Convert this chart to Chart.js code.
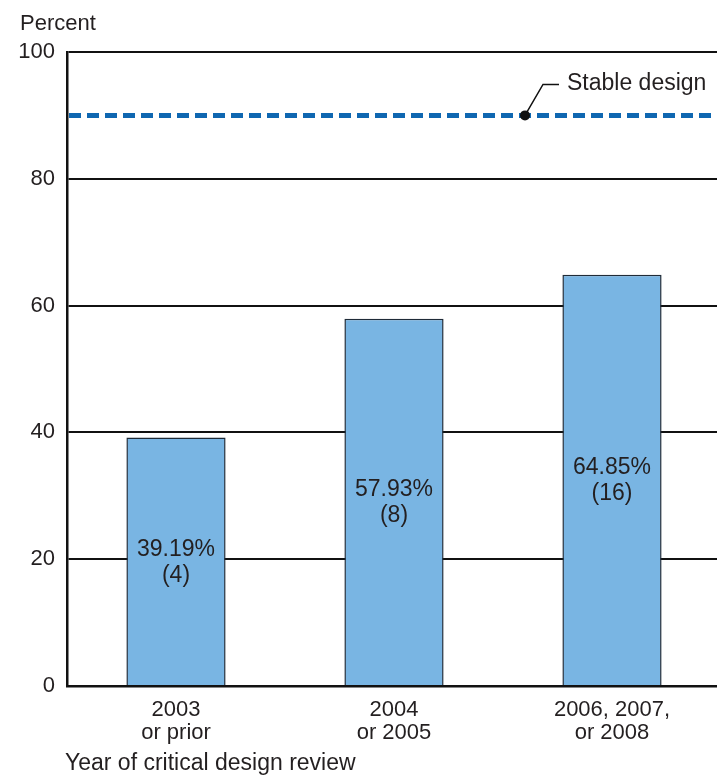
<!DOCTYPE html>
<html>
<head>
<meta charset="utf-8">
<script src="https://cdn.jsdelivr.net/npm/chart.js@4/dist/chart.umd.min.js"></script>
<style>
  html, body { margin: 0; padding: 0; background: #fff; overflow: hidden; }
  #wrap { width: 717px; height: 775px; overflow: hidden; }
</style>
</head>
<body>
<div id="wrap"><canvas id="myChart" width="721" height="775"></canvas></div>
<script>
// review periods and share of drawings completed
const categories = [['2003', 'or prior'], ['2004', 'or 2005'], ['2006, 2007,', 'or 2008']];
const percentValues = [39.19, 57.93, 64.85];
const programCounts = [4, 8, 16];
const yTicks = [0, 20, 40, 60, 80, 100];
const stableLevel = 90;
const stableLabel = 'Stable design';

const FONT = '"Liberation Sans", Arial, Helvetica, sans-serif';
const TEXT = '#231f20';

// writes the percent and program count in the middle of each bar
const barLabels = {
  id: 'barLabels',
  afterDatasetsDraw(chart) {
    const ctx = chart.ctx;
    const meta = chart.getDatasetMeta(0);
    ctx.save();
    ctx.font = '23px ' + FONT;
    ctx.fillStyle = TEXT;
    ctx.textAlign = 'center';
    ctx.textBaseline = 'middle';
    meta.data.forEach((bar, i) => {
      const mid = (bar.y + bar.base) / 2;
      ctx.fillText(percentValues[i].toFixed(2) + '%', bar.x, mid - 12);
      ctx.fillText('(' + programCounts[i] + ')', bar.x, mid + 14);
    });
    ctx.restore();
  }
};

// dashed reference line with its callout, plus the axis captions
const stableLine = {
  id: 'stableLine',
  afterDatasetsDraw(chart) {
    const ctx = chart.ctx;
    const area = chart.chartArea;
    const y = chart.scales.y.getPixelForValue(stableLevel);
    ctx.save();
    ctx.strokeStyle = '#0f67b1';
    ctx.lineWidth = 5;
    ctx.setLineDash([12, 6]);
    ctx.beginPath();
    ctx.moveTo(area.left + 2, y);
    ctx.lineTo(area.right, y);
    ctx.stroke();

    // callout
    const dx = area.left + 458;
    ctx.setLineDash([]);
    ctx.strokeStyle = '#111';
    ctx.lineWidth = 1.5;
    ctx.beginPath();
    ctx.moveTo(dx, y);
    ctx.lineTo(dx + 18, y - 31);
    ctx.lineTo(dx + 34, y - 31);
    ctx.stroke();
    ctx.fillStyle = '#111';
    ctx.beginPath();
    ctx.arc(dx, y, 5, 0, Math.PI * 2);
    ctx.fill();

    ctx.font = '23px ' + FONT;
    ctx.fillStyle = TEXT;
    ctx.textAlign = 'left';
    ctx.textBaseline = 'middle';
    ctx.fillText(stableLabel, dx + 42, y - 32);

    ctx.font = '22px ' + FONT;
    ctx.textBaseline = 'alphabetic';
    ctx.fillText('Percent', 20, 30);
    ctx.font = '23px ' + FONT;
    ctx.fillText('Year of critical design review', 65, 770);
    ctx.restore();
  }
};

const ctx = document.getElementById('myChart').getContext('2d');
const chart = new Chart(ctx, {
  type: 'bar',
  data: {
    labels: categories,
    datasets: [{
      data: percentValues,
      backgroundColor: '#79b5e3',
      borderColor: '#1f2b38',
      borderWidth: 1.5,
      categoryPercentage: 1,
      barPercentage: 0.455
    }]
  },
  options: {
    responsive: false,
    animation: false,
    layout: { padding: { top: 52, right: 0, left: 0, bottom: 0 } },
    plugins: {
      legend: { display: false },
      tooltip: { enabled: false }
    },
    scales: {
      x: {
        afterFit(scale) { scale.height = 89; },
        grid: { display: false },
        border: { color: '#111', width: 2.5 },
        ticks: {
          color: TEXT,
          padding: 4,
          font: { family: FONT, size: 22, lineHeight: 1.05 }
        }
      },
      y: {
        min: 0,
        max: 100,
        afterFit(scale) { scale.width = 67; },
        afterBuildTicks(scale) { scale.ticks = yTicks.map(v => ({ value: v })); },
        grid: { color: '#111', lineWidth: 2, drawTicks: false },
        border: { color: '#111', width: 2.5 },
        ticks: {
          color: TEXT,
          padding: 12,
          font: { family: FONT, size: 22 }
        }
      }
    }
  },
  plugins: [barLabels, stableLine]
});
</script>
</body>
</html>
